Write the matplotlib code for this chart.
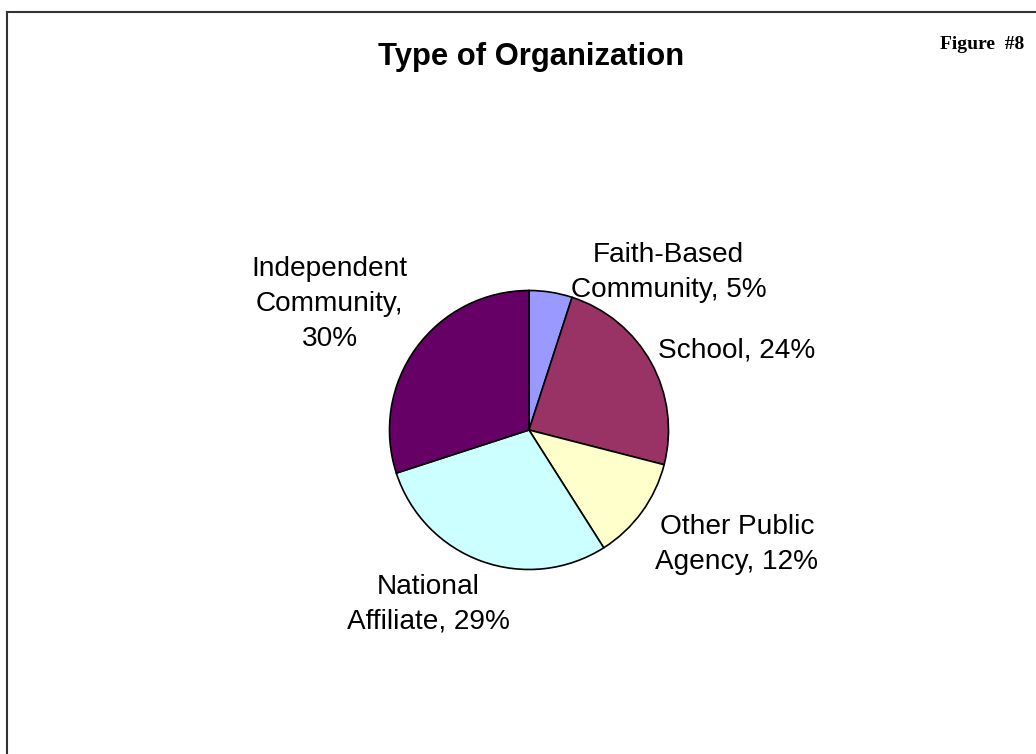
import matplotlib
matplotlib.use("Agg")
from matplotlib import pyplot as plt
from matplotlib.lines import Line2D

# organization types, listed clockwise from 12 o'clock
categories = ["Faith-Based\nCommunity", "School", "Other Public\nAgency",
              "National\nAffiliate", "Independent\nCommunity,"]
shares = [5, 24, 12, 29, 30]
colors = ["#9999FF", "#993366", "#FFFFCC", "#CCFFFF", "#660066"]

# label anchors in pie-radius units (best-fit placement)
label_pos = [(1.00, 1.13), (1.49, 0.57), (1.49, -0.82), (-0.72, -1.25), (-1.43, 0.90)]

W, H = 1036, 754
fig = plt.figure(figsize=(W / 100, H / 100), dpi=100)
fig.patch.set_facecolor("white")

# pie centre and radius in pixels
cx, cy, r = 529, 430, 139.5
ax = fig.add_axes([(cx - r) / W, (H - cy - r) / H, 2 * r / W, 2 * r / H])
ax.pie(shares, colors=colors, startangle=90, counterclock=False, radius=1,
       wedgeprops=dict(edgecolor="black", linewidth=1.2))
ax.set_xlim(-1, 1)
ax.set_ylim(-1, 1)
ax.set_aspect("auto")
ax.axis("off")

for name, val, (lx, ly) in zip(categories, shares, label_pos):
    if name.endswith(","):
        txt = f"{name}\n{val}%"
    else:
        txt = f"{name}, {val}%"
    ax.text(lx, ly, txt, ha="center", va="center", fontsize=20.2,
            family="Liberation Sans", linespacing=1.45, clip_on=False)

fig.text(531 / W, 1 - 57 / H, "Type of Organization", ha="center", va="center",
         fontsize=22.3, fontweight="bold", family="Liberation Sans")
fig.text(1024 / W, 1 - 49 / H, "Figure  #8", ha="right", va="baseline",
         fontsize=14, fontweight="bold", family="Liberation Serif")

# frame along the top and left edges
fig.add_artist(Line2D([7 / W, 1], [1 - 12 / H, 1 - 12 / H], color="#333333", linewidth=1.5,
                      transform=fig.transFigure))
fig.add_artist(Line2D([7 / W, 7 / W], [0, 1 - 12 / H], color="#333333", linewidth=1.5,
                      transform=fig.transFigure))

fig.savefig("out.png", dpi=100)
